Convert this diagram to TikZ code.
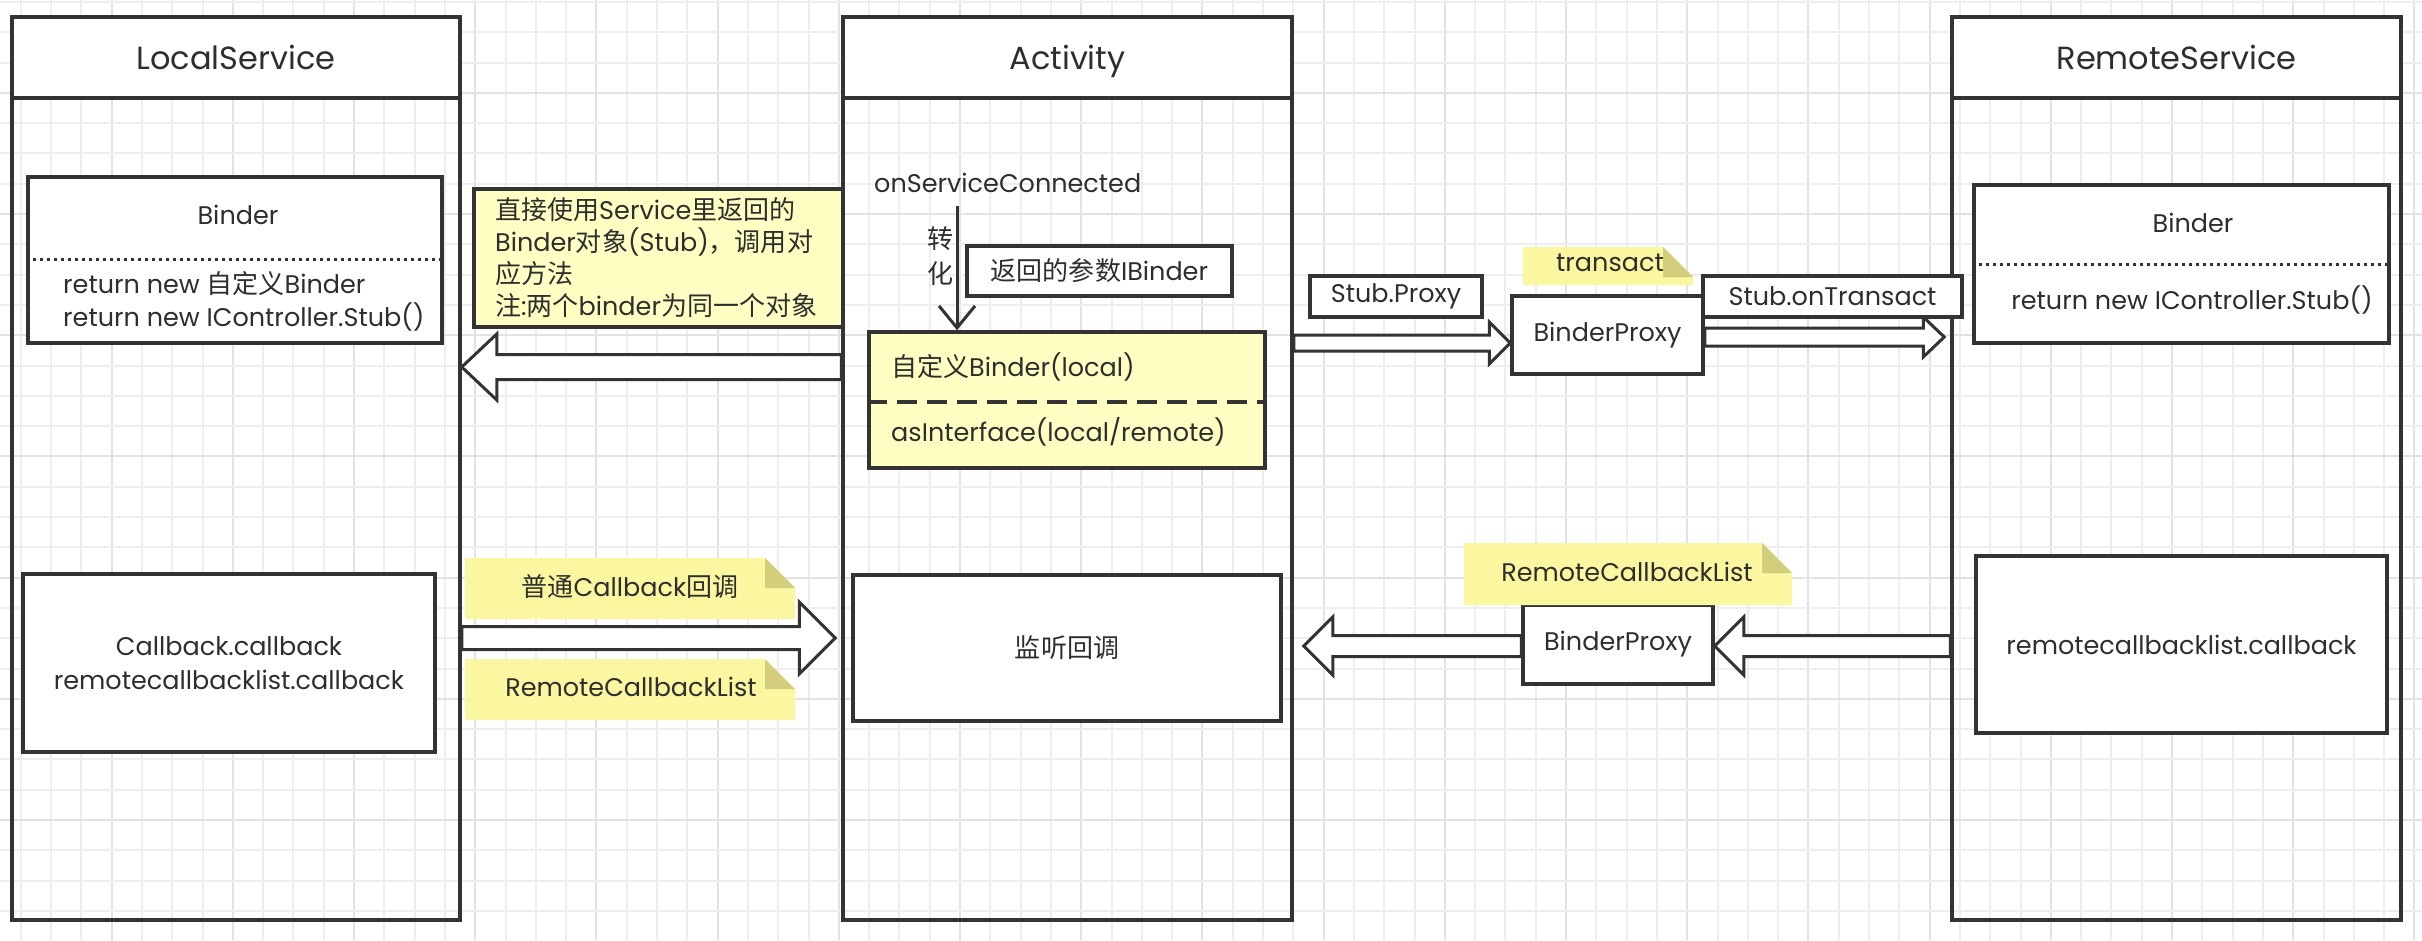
\documentclass[tikz,border=0pt]{standalone}
\usepackage{fontspec}
\setmainfont{Poppins}
\newfontfamily\cjk{Noto Sans CJK SC}[Scale=1.02]
\usetikzlibrary{arrows.meta,calc}
\definecolor{lc}{HTML}{333333}
\definecolor{tc}{HTML}{2E2E2E}
\definecolor{gridmin}{HTML}{EEEEEE}
\definecolor{gridmaj}{HTML}{E2E2E2}
\definecolor{boxyellow}{HTML}{FFFFC4}
\definecolor{noteyellow}{HTML}{FBF7A0}
\definecolor{notefold}{HTML}{D2CE7C}
\newcommand\cn[1]{{\cjk #1}}
\newcommand\bodyf{\fontsize{25.5}{34}\selectfont}
\newcommand\titlef{\fontsize{32}{38}\selectfont}
% node box from corners
\newcommand\bx[7]{\node[#6, minimum width={#4-#2}, minimum height={#5-#3}] (#1) at ({(#2+#4)/2},{(#3+#5)/2}) {#7};}
% sticky note shape
\newcommand\stickynote[4]{%
  \fill[noteyellow] (#1,#2) -- ({#3-30},#2) -- (#3,{#2+30}) -- (#3,#4) -- (#1,#4) -- cycle;
  \fill[notefold] ({#3-30},#2) -- ({#3-30},{#2+30}) -- (#3,{#2+30}) -- cycle;}
% hollow horizontal arrow: start, tip, shaft half, head half, signed head length
\newcommand\harrow[5]{%
  \draw[harr] let \p1=#1, \p2=#2 in
   (\x1,{\y1+#3}) -- ({\x2-(#5)},{\y1+#3}) -- ({\x2-(#5)},{\y1+#4}) -- (\x2,\y1)
   -- ({\x2-(#5)},{\y1-#4}) -- ({\x2-(#5)},{\y1-#3}) -- (\x1,{\y1-#3}) -- cycle;}
\begin{document}
\begin{tikzpicture}[x=1pt,y=-1pt,
  box/.style={draw=lc,line width=3.5pt,fill=white,inner sep=0pt,text=tc,font=\bodyf,align=center},
  titlebox/.style={box,font=\titlef,text height=23pt,text depth=0pt},
  col/.style={draw=lc,line width=3.5pt,inner sep=0pt},
  ybox/.style={box,fill=boxyellow},
  txt/.style={inner sep=0pt,text=tc,font=\bodyf},
  harr/.style={draw=lc,line width=3pt,fill=white,line join=miter},
  dotline/.style={draw=lc,line width=3pt,dash pattern=on 2.5pt off 4.5pt},
  dashline/.style={draw=lc,line width=4pt,dash pattern=on 20pt off 10pt}]
\useasboundingbox (0,0) rectangle (2422,940);
\fill[white] (0,0) rectangle (2422,940);
% grid
\foreach \k in {0,...,79}{
  \pgfmathtruncatemacro\m{mod(\k,4)}
  \ifnum\m=3 \def\gc{gridmaj}\else\def\gc{gridmin}\fi
  \draw[\gc,line width=2pt] ({20.7+30.3*\k},0) -- ({20.7+30.3*\k},940);}
\foreach \k in {0,...,30}{
  \pgfmathtruncatemacro\m{mod(\k,4)}
  \ifnum\m=3 \def\gc{gridmaj}\else\def\gc{gridmin}\fi
  \draw[\gc,line width=2pt] (0,{1.9+30.3*\k}) -- (2422,{1.9+30.3*\k});}
% columns
\bx{ls}{12}{17}{460}{920}{col}{}
\bx{lsh}{12}{17}{460}{98}{titlebox}{LocalService}
\bx{act}{843}{17}{1292}{920}{col}{}
\bx{acth}{843}{17}{1292}{98}{titlebox}{Activity}
\bx{rs}{1952}{17}{2401}{920}{col}{}
\bx{rsh}{1952}{17}{2401}{98}{titlebox}{RemoteService}
% LocalService content
\bx{lsb}{28}{177}{442}{343}{box}{}
\node[txt] (lsbt) at (238,215) {Binder};
\draw[dotline] (lsb.west |- 0,259) -- (lsb.east |- 0,259);
\node[txt,anchor=west] (lsb1) at (63,284) {return new \cn{自定义}Binder};
\node[txt,anchor=west] (lsb2) at (63,317) {return new IController.Stub()};
\bx{cb}{23}{574}{435}{752}{box}{Callback.callback\\remotecallbacklist.callback}
% note box
\bx{nt}{474}{189}{843}{327}{ybox}{}
\node[txt,anchor=west,align=left,font=\fontsize{25.5}{32}\selectfont] (ntt) at (495,258)
 {\cn{直接使用}Service\cn{里返回的}\\Binder\cn{对象}(Stub)\cn{，调用对}\\\cn{应方法}\\\cn{注}:\cn{两个}binder\cn{为同一个对象}};
% Activity content
\node[txt,anchor=west] (osc) at (874,183) {onServiceConnected};
\node[txt,align=center,font=\fontsize{25.5}{35}\selectfont] (zh) at (940,256) {\cn{转}\\\cn{化}};
\bx{rp}{967}{246}{1232}{296}{box}{\cn{返回的参数}IBinder}
\bx{yb}{869}{332}{1265}{468}{ybox}{}
\draw[dashline] (yb.west |- 0,402) -- (yb.east |- 0,402);
\node[txt,anchor=west] (yb1) at (891,367) {\cn{自定义}Binder(local)};
\node[txt,anchor=west] (yb2) at (891,432) {asInterface(local/remote)};
\coordinate (va) at (957,206);
\draw[lc,line width=3pt,-{Straight Barb[length=22pt,width=36pt]}] (va) -- (va |- yb.north);
\bx{lis}{853}{575}{1281}{721}{box}{\cn{监听回调}}
% middle
\bx{sp}{1310}{276}{1482}{317}{box}{Stub.Proxy}
\bx{bp1}{1512}{296}{1703}{374}{box}{BinderProxy}
\bx{bp2}{1523}{605}{1713}{684}{box}{BinderProxy}
% RemoteService content
\bx{rsb}{1974}{185}{2389}{343}{box}{}
\node[txt] (rsbt) at (2193,223) {Binder};
\draw[dotline] (rsb.west |- 0,264) -- (rsb.east |- 0,264);
\node[txt] (rsb1) at (2192,300) {return new IController.Stub()};
\bx{rcb}{1976}{556}{2387}{733}{box}{remotecallbacklist.callback}
% arrows
\harrow{(act.west |- 0,367)}{(ls.east |- 0,367)}{12.5pt}{33pt}{-35pt}
\harrow{(act.east |- 0,343)}{(bp1.west |- 0,343)}{8pt}{21pt}{21pt}
\harrow{(bp1.east |- 0,337)}{($(rs.west |- 0,337)+(-6,0)$)}{9pt}{20pt}{21pt}
\harrow{(ls.east |- 0,638)}{($(act.west |- 0,638)+(-6,0)$)}{11.5pt}{36pt}{36pt}
\harrow{(bp2.west |- 0,646)}{($(act.east |- 0,646)+(10,0)$)}{10.5pt}{29pt}{-29pt}
\harrow{(rs.west |- 0,646)}{(bp2.east |- 0,646)}{10.5pt}{29pt}{-29pt}
\bx{sot}{1703}{276}{1962}{317}{box}{Stub.onTransact}
% sticky notes
\stickynote{1523}{247}{1693}{285}
\node[txt] (trn) at (1610,263) {transact};
\stickynote{1464}{543}{1792}{605}
\node[txt] (rcl2) at (1627,572) {RemoteCallbackList};
\stickynote{465}{558}{795}{619}
\node[txt] (ncb) at (630,587) {\cn{普通}Callback\cn{回调}};
\stickynote{465}{659}{795}{720}
\node[txt] (rcl1) at (631,687) {RemoteCallbackList};
\end{tikzpicture}
\end{document}
